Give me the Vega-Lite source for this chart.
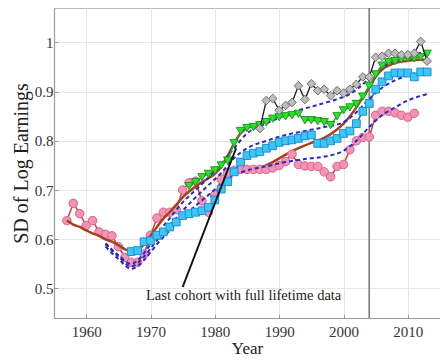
{
  "$schema": "https://vega.github.io/schema/vega-lite/v6.json",
  "width": 386,
  "height": 310,
  "autosize": {"type": "none"},
  "padding": {"left": 54, "top": 8, "right": 0, "bottom": 43},
  "background": "white",
  "config": {
    "font": "Liberation Serif",
    "view": {"stroke": "#b8b8b8", "strokeWidth": 1},
    "axis": {
      "grid": true,
      "gridColor": "#e6e6e6",
      "gridWidth": 1,
      "domainColor": "#9a9a9a",
      "domainWidth": 1.2,
      "tickColor": "#9a9a9a",
      "tickSize": -4,
      "labelFont": "Liberation Serif",
      "labelFontSize": 15,
      "labelColor": "#333333",
      "titleFont": "Liberation Serif",
      "titleFontWeight": "normal",
      "titleColor": "#222222"
    }
  },
  "datasets": {
    "pink": [
      {"year": 1957, "v": 0.638}, {"year": 1958, "v": 0.673}, {"year": 1959, "v": 0.652}, {"year": 1960, "v": 0.628},
      {"year": 1961, "v": 0.638}, {"year": 1962, "v": 0.615}, {"year": 1963, "v": 0.61}, {"year": 1964, "v": 0.607},
      {"year": 1965, "v": 0.585}, {"year": 1966, "v": 0.563}, {"year": 1967, "v": 0.553}, {"year": 1968, "v": 0.553},
      {"year": 1969, "v": 0.57}, {"year": 1970, "v": 0.608}, {"year": 1971, "v": 0.643}, {"year": 1972, "v": 0.655},
      {"year": 1973, "v": 0.655}, {"year": 1974, "v": 0.66}, {"year": 1975, "v": 0.7}, {"year": 1976, "v": 0.715},
      {"year": 1977, "v": 0.718}, {"year": 1978, "v": 0.678}, {"year": 1979, "v": 0.655}, {"year": 1980, "v": 0.69},
      {"year": 1981, "v": 0.722}, {"year": 1982, "v": 0.735}, {"year": 1983, "v": 0.74}, {"year": 1984, "v": 0.742},
      {"year": 1985, "v": 0.742}, {"year": 1986, "v": 0.742}, {"year": 1987, "v": 0.742}, {"year": 1988, "v": 0.742},
      {"year": 1989, "v": 0.745}, {"year": 1990, "v": 0.75}, {"year": 1991, "v": 0.758}, {"year": 1992, "v": 0.773},
      {"year": 1993, "v": 0.752}, {"year": 1994, "v": 0.749}, {"year": 1995, "v": 0.748}, {"year": 1996, "v": 0.748},
      {"year": 1997, "v": 0.737}, {"year": 1998, "v": 0.727}, {"year": 1999, "v": 0.748}, {"year": 2000, "v": 0.752},
      {"year": 2001, "v": 0.782}, {"year": 2002, "v": 0.8}, {"year": 2003, "v": 0.807}, {"year": 2004, "v": 0.808},
      {"year": 2005, "v": 0.852}, {"year": 2006, "v": 0.86}, {"year": 2007, "v": 0.86}, {"year": 2008, "v": 0.857},
      {"year": 2009, "v": 0.852}, {"year": 2010, "v": 0.848}, {"year": 2011, "v": 0.856}
    ],
    "brownA": [
      {"year": 1957, "v": 0.638}, {"year": 1958, "v": 0.63}, {"year": 1959, "v": 0.625},
      {"year": 1960, "v": 0.618}, {"year": 1961, "v": 0.612}, {"year": 1962, "v": 0.607},
      {"year": 1963, "v": 0.6}, {"year": 1964, "v": 0.595}, {"year": 1965, "v": 0.588},
      {"year": 1966, "v": 0.58}, {"year": 1967, "v": 0.575}, {"year": 1968, "v": 0.578},
      {"year": 1969, "v": 0.59}, {"year": 1970, "v": 0.607}, {"year": 1971, "v": 0.625},
      {"year": 1972, "v": 0.642}, {"year": 1973, "v": 0.655}, {"year": 1974, "v": 0.67},
      {"year": 1975, "v": 0.685}, {"year": 1976, "v": 0.697}, {"year": 1977, "v": 0.707},
      {"year": 1978, "v": 0.716}, {"year": 1979, "v": 0.724}, {"year": 1980, "v": 0.733},
      {"year": 1981, "v": 0.748}, {"year": 1982, "v": 0.77}, {"year": 1983, "v": 0.795},
      {"year": 1984, "v": 0.815}, {"year": 1985, "v": 0.826}
    ],
    "brownB": [
      {"year": 1983, "v": 0.738}, {"year": 1985, "v": 0.74}, {"year": 1987, "v": 0.745},
      {"year": 1989, "v": 0.757}, {"year": 1991, "v": 0.772}, {"year": 1993, "v": 0.785},
      {"year": 1995, "v": 0.796}, {"year": 1997, "v": 0.806}, {"year": 1999, "v": 0.823},
      {"year": 2000, "v": 0.835}, {"year": 2001, "v": 0.85}, {"year": 2002, "v": 0.868},
      {"year": 2003, "v": 0.888}, {"year": 2004, "v": 0.908}, {"year": 2005, "v": 0.93},
      {"year": 2006, "v": 0.945}, {"year": 2007, "v": 0.953}, {"year": 2008, "v": 0.958},
      {"year": 2009, "v": 0.961}, {"year": 2010, "v": 0.963}, {"year": 2011, "v": 0.964},
      {"year": 2012, "v": 0.965}, {"year": 2013, "v": 0.965}
    ],
    "dashed": [
      {"id": "d1", "year": 1963, "v": 0.592}, {"id": "d1", "year": 1965, "v": 0.568}, {"id": "d1", "year": 1967, "v": 0.55},
      {"id": "d1", "year": 1969, "v": 0.572}, {"id": "d1", "year": 1971, "v": 0.61}, {"id": "d1", "year": 1973, "v": 0.643},
      {"id": "d1", "year": 1975, "v": 0.675}, {"id": "d1", "year": 1977, "v": 0.7}, {"id": "d1", "year": 1979, "v": 0.725},
      {"id": "d1", "year": 1981, "v": 0.755}, {"id": "d1", "year": 1983, "v": 0.785}, {"id": "d1", "year": 1985, "v": 0.815},
      {"id": "d1", "year": 1988, "v": 0.835}, {"id": "d1", "year": 1990, "v": 0.847}, {"id": "d1", "year": 1993, "v": 0.862},
      {"id": "d1", "year": 1996, "v": 0.873}, {"id": "d1", "year": 1999, "v": 0.885}, {"id": "d1", "year": 2001, "v": 0.895},
      {"id": "d1", "year": 2003, "v": 0.915}, {"id": "d1", "year": 2005, "v": 0.94}, {"id": "d1", "year": 2007, "v": 0.957},
      {"id": "d1", "year": 2009, "v": 0.968}, {"id": "d1", "year": 2011, "v": 0.976}, {"id": "d1", "year": 2013, "v": 0.982},
      {"id": "d2", "year": 1963, "v": 0.59}, {"id": "d2", "year": 1965, "v": 0.565}, {"id": "d2", "year": 1967, "v": 0.545},
      {"id": "d2", "year": 1969, "v": 0.565}, {"id": "d2", "year": 1971, "v": 0.598}, {"id": "d2", "year": 1973, "v": 0.628},
      {"id": "d2", "year": 1975, "v": 0.658}, {"id": "d2", "year": 1977, "v": 0.685}, {"id": "d2", "year": 1979, "v": 0.71},
      {"id": "d2", "year": 1981, "v": 0.735}, {"id": "d2", "year": 1983, "v": 0.765}, {"id": "d2", "year": 1985, "v": 0.785},
      {"id": "d2", "year": 1988, "v": 0.8}, {"id": "d2", "year": 1991, "v": 0.812}, {"id": "d2", "year": 1994, "v": 0.82},
      {"id": "d2", "year": 1997, "v": 0.828}, {"id": "d2", "year": 2000, "v": 0.838}, {"id": "d2", "year": 2002, "v": 0.858},
      {"id": "d2", "year": 2004, "v": 0.885}, {"id": "d2", "year": 2006, "v": 0.908}, {"id": "d2", "year": 2008, "v": 0.923},
      {"id": "d2", "year": 2010, "v": 0.933}, {"id": "d2", "year": 2012, "v": 0.94},
      {"id": "d3", "year": 1963, "v": 0.585}, {"id": "d3", "year": 1965, "v": 0.56}, {"id": "d3", "year": 1967, "v": 0.54},
      {"id": "d3", "year": 1969, "v": 0.558}, {"id": "d3", "year": 1971, "v": 0.59}, {"id": "d3", "year": 1973, "v": 0.618},
      {"id": "d3", "year": 1975, "v": 0.645}, {"id": "d3", "year": 1977, "v": 0.668}, {"id": "d3", "year": 1979, "v": 0.69},
      {"id": "d3", "year": 1981, "v": 0.712}, {"id": "d3", "year": 1983, "v": 0.73}, {"id": "d3", "year": 1985, "v": 0.74},
      {"id": "d3", "year": 1988, "v": 0.748}, {"id": "d3", "year": 1991, "v": 0.757}, {"id": "d3", "year": 1994, "v": 0.763},
      {"id": "d3", "year": 1997, "v": 0.768}, {"id": "d3", "year": 2000, "v": 0.78}, {"id": "d3", "year": 2002, "v": 0.8},
      {"id": "d3", "year": 2004, "v": 0.828}, {"id": "d3", "year": 2006, "v": 0.852}, {"id": "d3", "year": 2008, "v": 0.868},
      {"id": "d3", "year": 2010, "v": 0.882}, {"id": "d3", "year": 2013, "v": 0.895}
    ],
    "cyan": [
      {"year": 1967, "v": 0.575}, {"year": 1968, "v": 0.577}, {"year": 1969, "v": 0.595}, {"year": 1970, "v": 0.597},
      {"year": 1971, "v": 0.608}, {"year": 1972, "v": 0.615}, {"year": 1973, "v": 0.625}, {"year": 1974, "v": 0.635},
      {"year": 1975, "v": 0.648}, {"year": 1976, "v": 0.652}, {"year": 1977, "v": 0.655}, {"year": 1978, "v": 0.658},
      {"year": 1979, "v": 0.665}, {"year": 1980, "v": 0.68}, {"year": 1981, "v": 0.702}, {"year": 1982, "v": 0.717},
      {"year": 1983, "v": 0.737}, {"year": 1984, "v": 0.757}, {"year": 1985, "v": 0.77}, {"year": 1986, "v": 0.775},
      {"year": 1987, "v": 0.778}, {"year": 1988, "v": 0.785}, {"year": 1989, "v": 0.79}, {"year": 1990, "v": 0.797},
      {"year": 1991, "v": 0.8}, {"year": 1992, "v": 0.802}, {"year": 1993, "v": 0.805}, {"year": 1994, "v": 0.81},
      {"year": 1995, "v": 0.812}, {"year": 1996, "v": 0.795}, {"year": 1997, "v": 0.795}, {"year": 1998, "v": 0.8},
      {"year": 1999, "v": 0.805}, {"year": 2000, "v": 0.815}, {"year": 2001, "v": 0.82}, {"year": 2002, "v": 0.835},
      {"year": 2003, "v": 0.86}, {"year": 2004, "v": 0.876}, {"year": 2005, "v": 0.905}, {"year": 2006, "v": 0.92},
      {"year": 2007, "v": 0.932}, {"year": 2008, "v": 0.938}, {"year": 2009, "v": 0.938}, {"year": 2010, "v": 0.938},
      {"year": 2011, "v": 0.93}, {"year": 2012, "v": 0.94}, {"year": 2013, "v": 0.94}
    ],
    "green": [
      {"year": 1976, "v": 0.708}, {"year": 1977, "v": 0.716}, {"year": 1978, "v": 0.726}, {"year": 1979, "v": 0.733},
      {"year": 1980, "v": 0.74}, {"year": 1981, "v": 0.75}, {"year": 1982, "v": 0.76}, {"year": 1983, "v": 0.795},
      {"year": 1984, "v": 0.82}, {"year": 1985, "v": 0.826}, {"year": 1986, "v": 0.828}, {"year": 1987, "v": 0.832},
      {"year": 1988, "v": 0.838}, {"year": 1989, "v": 0.845}, {"year": 1990, "v": 0.848}, {"year": 1991, "v": 0.85},
      {"year": 1992, "v": 0.852}, {"year": 1993, "v": 0.855}, {"year": 1994, "v": 0.842}, {"year": 1995, "v": 0.842},
      {"year": 1996, "v": 0.84}, {"year": 1997, "v": 0.838}, {"year": 1998, "v": 0.832}, {"year": 1999, "v": 0.85},
      {"year": 2000, "v": 0.862}, {"year": 2001, "v": 0.868}, {"year": 2002, "v": 0.875}, {"year": 2003, "v": 0.89},
      {"year": 2004, "v": 0.912}, {"year": 2005, "v": 0.935}, {"year": 2006, "v": 0.953}, {"year": 2007, "v": 0.96},
      {"year": 2008, "v": 0.962}, {"year": 2009, "v": 0.965}, {"year": 2010, "v": 0.968}, {"year": 2011, "v": 0.968},
      {"year": 2012, "v": 0.97}, {"year": 2013, "v": 0.977}
    ],
    "gray": [
      {"year": 1987, "v": 0.825}, {"year": 1988, "v": 0.882}, {"year": 1989, "v": 0.886}, {"year": 1990, "v": 0.862},
      {"year": 1991, "v": 0.872}, {"year": 1992, "v": 0.878}, {"year": 1993, "v": 0.912}, {"year": 1994, "v": 0.884},
      {"year": 1995, "v": 0.916}, {"year": 1996, "v": 0.902}, {"year": 1997, "v": 0.905}, {"year": 1998, "v": 0.892},
      {"year": 1999, "v": 0.902}, {"year": 2000, "v": 0.897}, {"year": 2001, "v": 0.905}, {"year": 2002, "v": 0.915},
      {"year": 2003, "v": 0.93}, {"year": 2004, "v": 0.93}, {"year": 2005, "v": 0.97}, {"year": 2006, "v": 0.972},
      {"year": 2007, "v": 0.978}, {"year": 2008, "v": 0.978}, {"year": 2009, "v": 0.975}, {"year": 2010, "v": 0.975},
      {"year": 2011, "v": 0.978}, {"year": 2012, "v": 1.002}, {"year": 2013, "v": 0.962}
    ],
    "vline": [{"year": 2004, "v": 0.44, "v2": 1.07}],
    "arrow": [{"year": 1975.0, "v": 0.503, "year2": 1983.3, "v2": 0.785}],
    "note": [{"year": 1969.3, "v": 0.4756, "t": "Last cohort with full lifetime data"}]
  },
  "encoding": {
    "x": {
      "field": "year",
      "type": "quantitative",
      "scale": {"domain": [1955, 2015], "nice": false, "zero": false},
      "axis": {
        "values": [1960, 1970, 1980, 1990, 2000, 2010],
        "format": "d",
        "labelPadding": 10,
        "title": "Year",
        "titleFontSize": 17,
        "titlePadding": 1
      }
    },
    "y": {
      "field": "v",
      "type": "quantitative",
      "scale": {"domain": [0.44, 1.07], "nice": false, "zero": false},
      "axis": {
        "values": [0.5, 0.6, 0.7, 0.8, 0.9, 1.0],
        "format": ".1~f",
        "labelPadding": 5,
        "title": "SD of Log Earnings",
        "titleFontSize": 20,
        "titlePadding": 3
      }
    }
  },
  "layer": [
    {
      "data": {"name": "vline"},
      "mark": {"type": "rule", "color": "#7a7a7a", "strokeWidth": 1.6},
      "encoding": {"y2": {"field": "v2"}}
    },
    {
      "data": {"name": "brownB"},
      "mark": {"type": "line", "color": "#a8401c", "strokeWidth": 2.5, "interpolate": "monotone"},
      "encoding": {}
    },
    {
      "data": {"name": "pink"},
      "mark": {"type": "line", "color": "#d6363e", "strokeWidth": 1.5},
      "encoding": {}
    },
    {
      "data": {"name": "pink"},
      "mark": {"type": "point", "shape": "circle", "filled": true, "fill": "#f394b6", "stroke": "#dc5f8a", "strokeWidth": 1, "size": 72, "opacity": 1},
      "encoding": {}
    },
    {
      "data": {"name": "brownA"},
      "mark": {"type": "line", "color": "#a8401c", "strokeWidth": 2.5, "interpolate": "monotone"},
      "encoding": {}
    },
    {
      "data": {"name": "dashed"},
      "mark": {"type": "line", "color": "#2a2ac8", "strokeWidth": 2, "strokeDash": [4, 3], "interpolate": "monotone"},
      "encoding": {"detail": {"field": "id"}}
    },
    {
      "data": {"name": "cyan"},
      "mark": {"type": "line", "color": "#1f55d6", "strokeWidth": 1.4},
      "encoding": {}
    },
    {
      "data": {"name": "cyan"},
      "mark": {"type": "point", "shape": "square", "filled": true, "fill": "#3ec6f2", "stroke": "#1e8ee0", "strokeWidth": 1, "size": 60, "opacity": 1},
      "encoding": {}
    },
    {
      "data": {"name": "green"},
      "mark": {"type": "line", "color": "#1fb01f", "strokeWidth": 1.4},
      "encoding": {}
    },
    {
      "data": {"name": "green"},
      "mark": {"type": "point", "shape": "triangle-down", "filled": true, "fill": "#2ee02e", "stroke": "#1c9e1c", "strokeWidth": 1, "size": 70, "opacity": 1},
      "encoding": {}
    },
    {
      "data": {"name": "gray"},
      "mark": {"type": "line", "color": "#1c1c1c", "strokeWidth": 1.3},
      "encoding": {}
    },
    {
      "data": {"name": "gray"},
      "mark": {"type": "point", "shape": "diamond", "filled": true, "fill": "#bdbdbd", "stroke": "#6e6e6e", "strokeWidth": 1, "size": 75, "opacity": 1},
      "encoding": {}
    },
    {
      "data": {"name": "arrow"},
      "mark": {"type": "rule", "color": "#111111", "strokeWidth": 2},
      "encoding": {"x2": {"field": "year2"}, "y2": {"field": "v2"}}
    },
    {
      "data": {"name": "note"},
      "mark": {"type": "text", "align": "left", "baseline": "alphabetic", "font": "Liberation Serif", "fontSize": 14.5, "color": "#222222"},
      "encoding": {"text": {"field": "t"}}
    }
  ]
}
